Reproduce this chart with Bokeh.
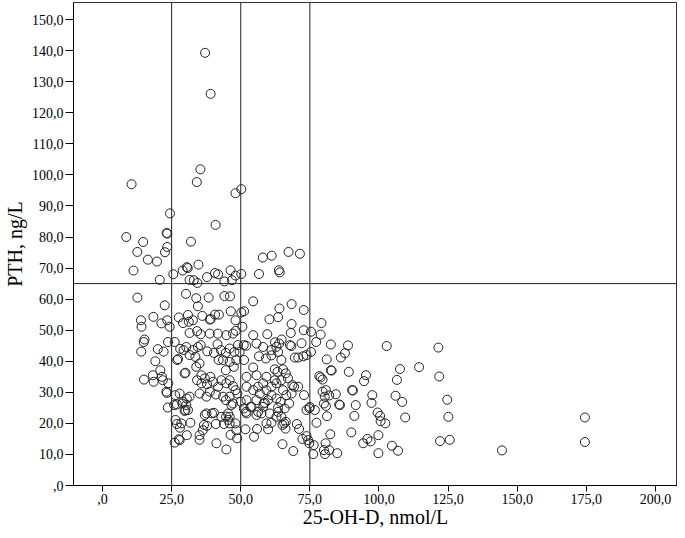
from bokeh.plotting import figure
from bokeh.models import FixedTicker, Span, Range1d
from bokeh.embed import file_html
from bokeh.resources import INLINE

# 25-OH-D (nmol/L) and PTH (ng/L)
vitd = [
    37.1, 39.1, 35.4, 34.1, 10.5, 48.1, 50.2, 24.4, 40.9, 23.4, 23.2, 8.6, 14.7, 32.0, 23.4, 12.6, 22.6, 16.4, 19.7, 11.2,
    25.6, 20.7, 29.0, 30.5, 30.8, 34.7, 31.5, 33.0, 34.3, 37.8, 40.7, 41.8, 44.1, 46.3, 46.8, 48.1, 50.2, 56.6, 58.0, 61.2,
    63.8, 64.1, 67.3, 71.4,
    12.6, 30.2, 33.9, 38.4, 44.1, 46.1, 54.5, 22.5, 34.5, 64.0, 68.4, 72.8,
    13.9, 14.1, 18.4, 21.3, 23.4, 24.3, 27.6, 29.1, 30.9, 31.2, 32.7, 36.1, 38.8, 39.1, 40.7, 42.1, 46.4, 48.1, 50.2, 51.2,
    50.6, 60.4, 63.5, 68.4, 79.2,
    34.2, 35.5, 38.8, 41.7, 44.8, 31.5, 47.2, 48.2, 54.5, 59.6, 68.1, 72.8, 75.4, 78.9, 62.4, 64.8, 14.9, 15.2, 23.7, 26.1,
    77.3, 82.6, 88.8, 102.8, 121.5, 30.3, 34.5, 35.5, 41.6, 49.0, 51.1, 52.0, 58.1, 55.7, 63.9, 67.8, 68.3, 72.0, 62.9,
    14.0, 20.0, 22.1, 28.1, 29.3, 32.7, 31.5, 33.6, 37.9, 40.3, 42.8, 44.6, 46.0, 47.7, 49.6, 61.1, 63.5, 56.6, 59.1, 61.1,
    75.4, 73.8, 72.6, 70.8, 69.6, 87.7, 86.2, 81.1, 19.1, 27.0, 27.3, 42.0, 43.6, 46.0, 48.4, 51.2, 64.7, 35.1,
    20.9, 18.2, 21.5, 44.6, 47.5, 54.5, 62.3, 63.3, 65.3, 66.3, 33.9, 29.7, 30.0, 35.8, 39.0, 82.6, 82.9, 89.1, 78.4, 78.9,
    95.3, 107.6, 114.5, 121.8, 52.1, 55.7, 59.3,
    21.8, 15.0, 18.5, 23.8, 34.2, 35.8, 37.8, 40.0, 41.8, 43.0, 44.8, 46.0, 47.2, 48.1, 37.0, 79.6, 94.6, 106.5, 62.3, 64.7,
    67.1, 52.1, 54.5, 56.3, 58.1, 59.3, 61.1, 62.9, 65.3, 68.7, 69.3, 70.8, 80.8, 90.3, 90.6, 38.8, 23.1,
    48.8, 46.0, 46.6, 47.2, 43.6, 44.6, 41.0, 37.6, 35.1, 26.3, 27.9, 29.1, 30.5, 31.5, 25.9, 26.9, 28.9, 30.3, 23.3, 23.6,
    56.9, 61.1, 62.9, 64.4, 66.5, 52.1, 55.7, 58.7, 59.9, 67.5, 68.4, 72.9, 79.6, 80.4, 80.1, 80.8, 82.0, 84.4, 85.6, 85.9,
    91.6, 97.6, 97.3, 106.0, 108.4, 124.7, 50.0, 53.5, 58.3, 63.5, 75.0,
    30.9, 29.7, 26.4, 26.9, 28.5, 31.8, 37.6, 39.6, 40.3, 43.0, 45.4, 46.0, 46.0, 48.1, 52.1, 55.7, 57.5, 59.3, 61.1, 65.1,
    65.7, 60.5, 63.5, 64.7, 53.9, 56.3, 58.1, 65.9, 76.8, 74.8, 73.8, 81.2, 77.4, 99.5, 100.4, 100.6, 102.3, 109.5, 91.1, 125.1,
    174.5, 62.9, 51.1, 51.9, 44.7, 45.5, 30.0, 37.0, 43.9, 41.0, 36.7, 66.3, 70.3,
    26.1, 27.6, 30.5, 35.1, 36.3, 37.8, 48.4, 41.2, 44.8, 51.7, 54.8, 65.1, 71.1, 72.3, 73.8, 74.4, 76.4, 74.8, 80.7, 80.1,
    76.2, 69.0, 82.4, 90.0, 99.8, 95.8, 94.3, 97.0, 104.7, 106.9, 99.8, 84.9, 82.0, 80.5, 122.1, 125.6, 144.5, 174.5, 27.9, 28.0,
    35.1, 48.7, 46.3, 55.9, 59.9, 66.2,
]
pth = [
    139.3, 126.1, 101.8, 97.7, 97.0, 94.1, 95.4, 87.6, 83.9, 81.1, 81.3, 80.0, 78.4, 78.5, 76.8, 75.2, 75.1, 72.7, 72.1, 69.2,
    68.0, 66.2, 69.2, 70.3, 70.0, 71.1, 66.2, 66.1, 65.2, 67.1, 68.4, 68.0, 65.7, 69.3, 66.1, 67.6, 68.1, 68.1, 73.4, 74.0,
    69.3, 68.6, 75.2, 74.6,
    60.5, 61.7, 60.3, 60.5, 61.0, 60.9, 59.3, 58.0, 57.7, 57.0, 58.4, 56.5,
    53.2, 51.1, 54.3, 52.2, 53.2, 51.1, 54.1, 52.3, 54.9, 52.7, 53.2, 54.6, 53.4, 53.6, 55.0, 55.0, 56.1, 53.2, 55.7, 56.1,
    51.1, 53.5, 54.2, 52.0, 52.3,
    49.7, 48.7, 48.9, 48.9, 48.4, 49.1, 48.9, 49.8, 48.4, 48.7, 49.1, 50.0, 49.5, 48.6, 46.1, 47.0, 46.2, 47.0, 46.2, 46.2,
    46.2, 45.4, 45.1, 44.9, 44.4, 44.6, 44.6, 45.2, 45.5, 45.2, 45.2, 45.0, 44.6, 45.7, 45.7, 45.2, 44.9, 45.8, 44.6,
    43.1, 43.9, 43.1, 44.0, 43.6, 43.6, 42.0, 41.4, 43.2, 42.7, 43.6, 42.7, 44.1, 43.0, 43.0, 43.6, 43.0, 41.6, 40.9, 41.9,
    43.0, 42.0, 41.6, 41.2, 41.2, 42.6, 41.2, 40.6, 40.0, 40.4, 40.7, 40.4, 40.4, 39.8, 40.4, 40.4, 40.4, 39.3,
    37.1, 35.5, 35.0, 37.1, 38.2, 38.0, 37.4, 36.6, 37.4, 36.1, 38.2, 36.1, 36.3, 35.5, 35.0, 37.1, 37.0, 36.6, 35.2, 34.8,
    35.5, 37.5, 38.1, 35.1, 35.0, 35.5, 35.0,
    33.9, 34.1, 33.4, 32.9, 33.9, 32.9, 32.6, 33.4, 31.8, 33.9, 32.9, 33.9, 32.0, 30.7, 34.5, 34.1, 33.6, 34.0, 33.9, 33.9,
    34.5, 31.8, 30.7, 31.8, 32.9, 30.7, 31.8, 32.9, 30.7, 32.3, 31.8, 31.8, 30.7, 30.7, 30.6, 30.2, 30.2,
    29.6, 28.6, 25.9, 26.4, 28.6, 27.5, 29.3, 28.6, 29.6, 29.1, 29.6, 27.0, 28.0, 28.6, 25.9, 26.1, 26.4, 25.9, 29.8, 25.1,
    29.6, 29.1, 28.0, 26.9, 29.1, 27.5, 27.5, 26.6, 27.5, 26.4, 29.6, 29.1, 30.2, 28.6, 26.4, 25.6, 29.0, 29.4, 26.1, 25.9,
    25.9, 29.1, 26.6, 28.9, 26.9, 27.6, 27.0, 25.3, 26.4, 25.1, 25.3,
    24.3, 24.0, 21.1, 19.8, 20.0, 20.2, 23.2, 23.2, 23.4, 22.1, 23.2, 22.1, 20.0, 20.0, 23.2, 22.7, 23.2, 20.0, 20.2, 19.5,
    20.0, 23.2, 23.7, 22.1, 25.3, 23.7, 25.3, 24.8, 24.3, 24.9, 24.3, 22.3, 20.2, 23.5, 22.4, 20.7, 20.0, 21.9, 22.4, 22.1,
    21.9, 22.1, 24.8, 23.7, 22.2, 21.1, 24.3, 22.7, 19.8, 19.8, 19.5, 20.5, 19.8,
    13.8, 14.9, 16.2, 16.2, 17.8, 19.2, 17.8, 13.6, 11.6, 18.1, 15.7, 13.3, 18.2, 15.0, 15.9, 14.6, 13.0, 13.6, 13.6, 11.4,
    10.1, 11.1, 16.5, 17.1, 16.2, 15.0, 13.6, 14.2, 12.8, 11.2, 10.4, 10.4, 11.4, 10.1, 14.3, 14.7, 11.3, 14.0, 14.6, 18.6,
    14.7, 15.2, 16.3, 18.2, 18.1, 18.3,
]

x_ticks = [0, 25, 50, 75, 100, 125, 150, 175, 200]
x_tick_labels = [",0", "25,0", "50,0", "75,0", "100,0", "125,0", "150,0", "175,0", "200,0"]
y_ticks = [0, 10, 20, 30, 40, 50, 60, 70, 80, 90, 100, 110, 120, 130, 140, 150]
y_tick_labels = [",0", "10,0", "20,0", "30,0", "40,0", "50,0", "60,0", "70,0", "80,0", "90,0",
                 "100,0", "110,0", "120,0", "130,0", "140,0", "150,0"]
x_cutoffs = [25, 50, 75]
y_cutoff = 65
x_title = "25-OH-D, nmol/L"
y_title = "PTH, ng/L"

FONT = "Liberation Serif"

p = figure(width=677, height=530, output_backend="svg", toolbar_location=None,
           x_range=Range1d(-10.5, 208), y_range=Range1d(0, 155.5),
           min_border_left=0, min_border_right=0, min_border_top=2, min_border_bottom=0)
p.background_fill_color = "white"
p.border_fill_color = "white"
p.outline_line_color = "#333333"
p.outline_line_width = 1
p.grid.visible = False

p.scatter(vitd, pth, size=9, marker="circle", fill_color=None,
          line_color="#222222", line_width=1)

for xc in x_cutoffs:
    p.add_layout(Span(location=xc, dimension="height", line_color="#222222", line_width=1))
p.add_layout(Span(location=y_cutoff, dimension="width", line_color="#222222", line_width=1))

p.xaxis.ticker = FixedTicker(ticks=x_ticks)
p.xaxis.major_label_overrides = {t: l for t, l in zip(x_ticks, x_tick_labels)}
p.yaxis.ticker = FixedTicker(ticks=y_ticks)
p.yaxis.major_label_overrides = {t: l for t, l in zip(y_ticks, y_tick_labels)}

p.xaxis.axis_label = x_title
p.yaxis.axis_label = y_title
for ax in (p.xaxis, p.yaxis):
    ax.axis_label_text_font = FONT
    ax.axis_label_text_font_size = "20px"
    ax.axis_label_text_font_style = "normal"
    ax.axis_label_text_color = "black"
    ax.major_label_text_font = FONT
    ax.major_label_text_font_size = "14px"
    ax.major_label_text_color = "black"
    ax.axis_line_color = "black"
    ax.major_tick_line_color = "black"
    ax.major_tick_in = 0
    ax.minor_tick_line_color = None
p.xaxis.major_tick_out = 6
p.xaxis.major_label_standoff = 2
p.xaxis.axis_label_standoff = -1
p.yaxis.major_tick_out = 8
p.yaxis.major_label_standoff = 2
p.yaxis.axis_label_standoff = 3

open("out.html", "w").write(file_html(p, INLINE))
